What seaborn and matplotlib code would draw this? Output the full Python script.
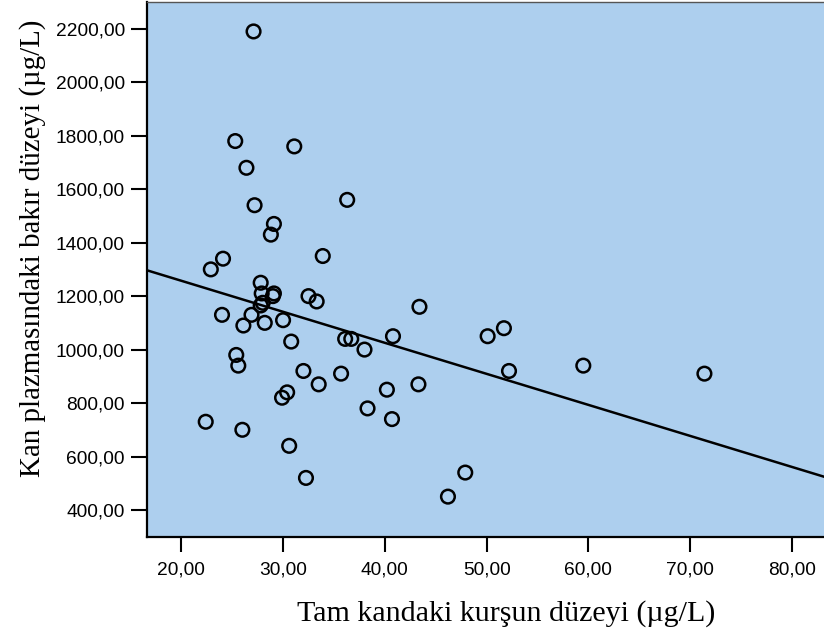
import matplotlib
matplotlib.use("Agg")
import matplotlib.pyplot as plt
from matplotlib.ticker import FuncFormatter, FixedLocator
import seaborn as sns
import pandas as pd

# Data
lead_blood = [27.1, 25.3, 31.1, 26.4, 27.2, 29.1, 28.8, 36.3, 33.9, 24.1,
              22.9, 27.8, 27.9, 29.1, 29.0, 28.0, 27.8, 32.5, 33.3, 24.0,
              26.9, 26.1, 28.2, 30.0, 30.8, 25.4, 25.6, 32.0, 33.5, 30.4,
              29.9, 35.7, 36.1, 36.7, 38.0, 40.8, 43.4, 40.2, 43.3, 38.3,
              40.7, 22.4, 26.0, 30.6, 32.25, 47.9, 46.2, 50.1, 51.7, 52.2,
              59.5, 71.4]
copper_plasma = [2190, 1780, 1760, 1680, 1540, 1470, 1430, 1560, 1350, 1340,
                 1300, 1250, 1210, 1210, 1200, 1175, 1165, 1200, 1180, 1130,
                 1130, 1090, 1100, 1110, 1030, 980, 940, 920, 870, 840,
                 820, 910, 1040, 1040, 1000, 1050, 1160, 850, 870, 780,
                 740, 730, 700, 640, 520, 540, 450, 1050, 1080, 920,
                 940, 910]

x_ticks = [20, 30, 40, 50, 60, 70, 80]
y_ticks = [400, 600, 800, 1000, 1200, 1400, 1600, 1800, 2000, 2200]
x_label = "Tam kandaki kurşun düzeyi (µg/L)"
y_label = "Kan plazmasındaki bakır düzeyi (µg/L)"

df = pd.DataFrame({"x": lead_blood, "y": copper_plasma})

W, H = 824, 636
fig = plt.figure(figsize=(W / 100, H / 100), dpi=100)
left, right, top, bottom = 147, 824, 1.5, 537
ax = fig.add_axes([left / W, 1 - bottom / H, (right - left) / W, (bottom - top) / H])
ax.set_facecolor("#ADCFEE")

xlim = (16.63, 83.15)
ylim = (299, 2302)
ax.set_xlim(*xlim)
ax.set_ylim(*ylim)

sns.regplot(data=df, x="x", y="y", ax=ax, ci=None, truncate=False,
            scatter_kws=dict(facecolors="none", edgecolors="black", s=96,
                             linewidths=1.8, alpha=1, zorder=3),
            line_kws=dict(color="black", lw=1.8, zorder=2))

ax.set_xlim(*xlim)
ax.set_ylim(*ylim)

fmt = FuncFormatter(lambda v, p: f"{v:.2f}".replace(".", ","))
ax.xaxis.set_major_locator(FixedLocator(x_ticks))
ax.yaxis.set_major_locator(FixedLocator(y_ticks))
ax.xaxis.set_major_formatter(fmt)
ax.yaxis.set_major_formatter(fmt)

ax.tick_params(axis="y", direction="out", length=11.5, width=1.5, pad=4.5,
               colors="black", labelsize=13.8)
ax.tick_params(axis="x", direction="out", length=11, width=1.5, pad=6.5,
               colors="black", labelsize=13.8)
for lab in ax.get_xticklabels() + ax.get_yticklabels():
    lab.set_fontfamily(["Liberation Sans", "DejaVu Sans"])

for s in ["left", "bottom"]:
    ax.spines[s].set_linewidth(1.6)
    ax.spines[s].set_color("black")
ax.spines["top"].set_linewidth(1.0)
ax.spines["top"].set_color("#555555")
ax.spines["right"].set_visible(False)

ax.set_xlabel(x_label, fontsize=21.6, family=["Liberation Serif", "DejaVu Serif"])
ax.set_ylabel(y_label, fontsize=20.9, family=["Liberation Serif", "DejaVu Serif"])
ax.xaxis.label.set_va("baseline")
ax.xaxis.set_label_coords((506 - left) / (right - left), (bottom - 621) / (bottom - top))
ax.yaxis.label.set_va("baseline")
ax.yaxis.set_label_coords((39.5 - left) / (right - left), (bottom - 248) / (bottom - top))

fig.savefig("out.png", dpi=100)
